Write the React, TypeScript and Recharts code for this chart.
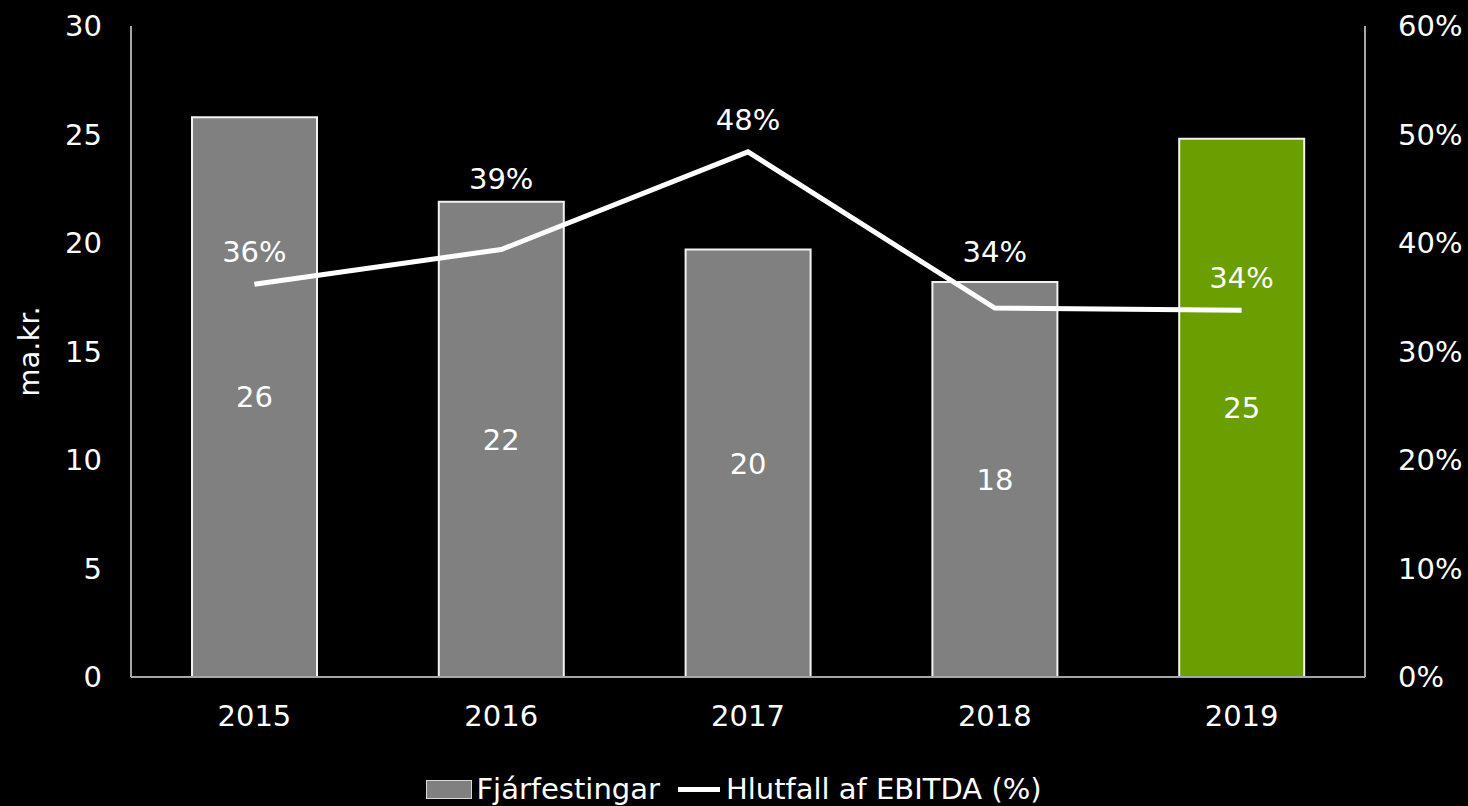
import {
  Bar,
  Cell,
  ComposedChart,
  LabelList,
  Legend,
  Line,
  XAxis,
  YAxis,
} from 'recharts'

const years = ['2015', '2016', '2017', '2018', '2019']
const investments = [25.8, 21.9, 19.7, 18.2, 24.8]
const ebitdaRatio = [36.2, 39.4, 48.4, 34.0, 33.8]
const leftTicks = [0, 5, 10, 15, 20, 25, 30]
const rightTicks = [0, 10, 20, 30, 40, 50, 60]

const data = years.map((year, i) => ({
  year,
  investments: investments[i],
  ratio: ebitdaRatio[i],
}))

const FONT = '"DejaVu Sans", Verdana, sans-serif'
const FS = 29
const AXIS_COLOR = '#a6a6a6'
const BAR_GRAY = '#808080'
const BAR_GREEN = '#6b9e00'
// how far each line label sits above its point
const lineLabelLift = [32, 71, 32, 56, 32]

function LineLabel(props: any) {
  const { x, y, value, index } = props
  return (
    <text
      x={x}
      y={y - lineLabelLift[index]}
      fill="#fff"
      fontSize={FS}
      fontFamily={FONT}
      textAnchor="middle"
      dominantBaseline="central"
    >
      {Math.round(value)}%
    </text>
  )
}

function LegendContent() {
  return (
    <div
      style={{
        display: 'flex',
        justifyContent: 'center',
        alignItems: 'center',
        height: 34,
        fontFamily: FONT,
        fontSize: FS,
        color: '#fff',
      }}
    >
      <span
        style={{
          display: 'inline-block',
          width: 44,
          height: 17,
          background: BAR_GRAY,
          border: '1px solid #d9d9d9',
          marginRight: 4,
        }}
      />
      <span>Fjárfestingar</span>
      <span
        style={{
          display: 'inline-block',
          width: 42,
          height: 5,
          background: '#fff',
          marginLeft: 18,
          marginRight: 6,
        }}
      />
      <span>Hlutfall af EBITDA (%)</span>
    </div>
  )
}

export default function App() {
  return (
    <div style={{ position: 'fixed', left: 0, top: 0, width: 1468, height: 806, background: '#000' }}>
      <ComposedChart
        width={1468}
        height={806}
        data={data}
        margin={{ top: 26, right: 0, bottom: 0, left: 0 }}
      >
        <XAxis
          dataKey="year"
          height={95}
          tickLine={false}
          tickSize={6}
          tickMargin={22}
          stroke={AXIS_COLOR}
          strokeWidth={2}
          tick={{ fill: '#fff', fontSize: FS, fontFamily: FONT }}
        />
        <YAxis
          yAxisId="left"
          width={131}
          domain={[0, 30]}
          ticks={leftTicks}
          interval={0}
          tickLine={false}
          tickSize={6}
          tickMargin={23}
          stroke={AXIS_COLOR}
          strokeWidth={2}
          tick={{ fill: '#fff', fontSize: FS, fontFamily: FONT }}
          label={{
            value: 'ma.kr.',
            angle: -90,
            position: 'insideLeft',
            offset: 29,
            style: { fill: '#fff', fontSize: FS, fontFamily: FONT, textAnchor: 'middle' },
          }}
        />
        <YAxis
          yAxisId="right"
          orientation="right"
          width={103}
          domain={[0, 60]}
          ticks={rightTicks}
          interval={0}
          tickLine={false}
          tickSize={6}
          tickMargin={27}
          stroke={AXIS_COLOR}
          strokeWidth={2}
          tickFormatter={(v) => `${v}%`}
          tick={{ fill: '#fff', fontSize: FS, fontFamily: FONT }}
        />
        <Legend verticalAlign="bottom" content={<LegendContent />} />
        <Bar
          yAxisId="left"
          dataKey="investments"
          barSize={125}
          fill={BAR_GRAY}
          stroke="#f2f2f2"
          strokeWidth={2}
          isAnimationActive={false}
        >
          {data.map((d, i) => (
            <Cell key={d.year} fill={i === data.length - 1 ? BAR_GREEN : BAR_GRAY} />
          ))}
          <LabelList
            dataKey="investments"
            position="center"
            formatter={(v: any) => Math.round(Number(v))}
            style={{ fill: '#fff', fontSize: FS, fontFamily: FONT, stroke: 'none' }}
          />
        </Bar>
        <Line
          yAxisId="right"
          dataKey="ratio"
          type="linear"
          stroke="#fff"
          strokeWidth={5}
          dot={false}
          activeDot={false}
          isAnimationActive={false}
        >
          <LabelList dataKey="ratio" content={<LineLabel />} />
        </Line>
      </ComposedChart>
    </div>
  )
}
